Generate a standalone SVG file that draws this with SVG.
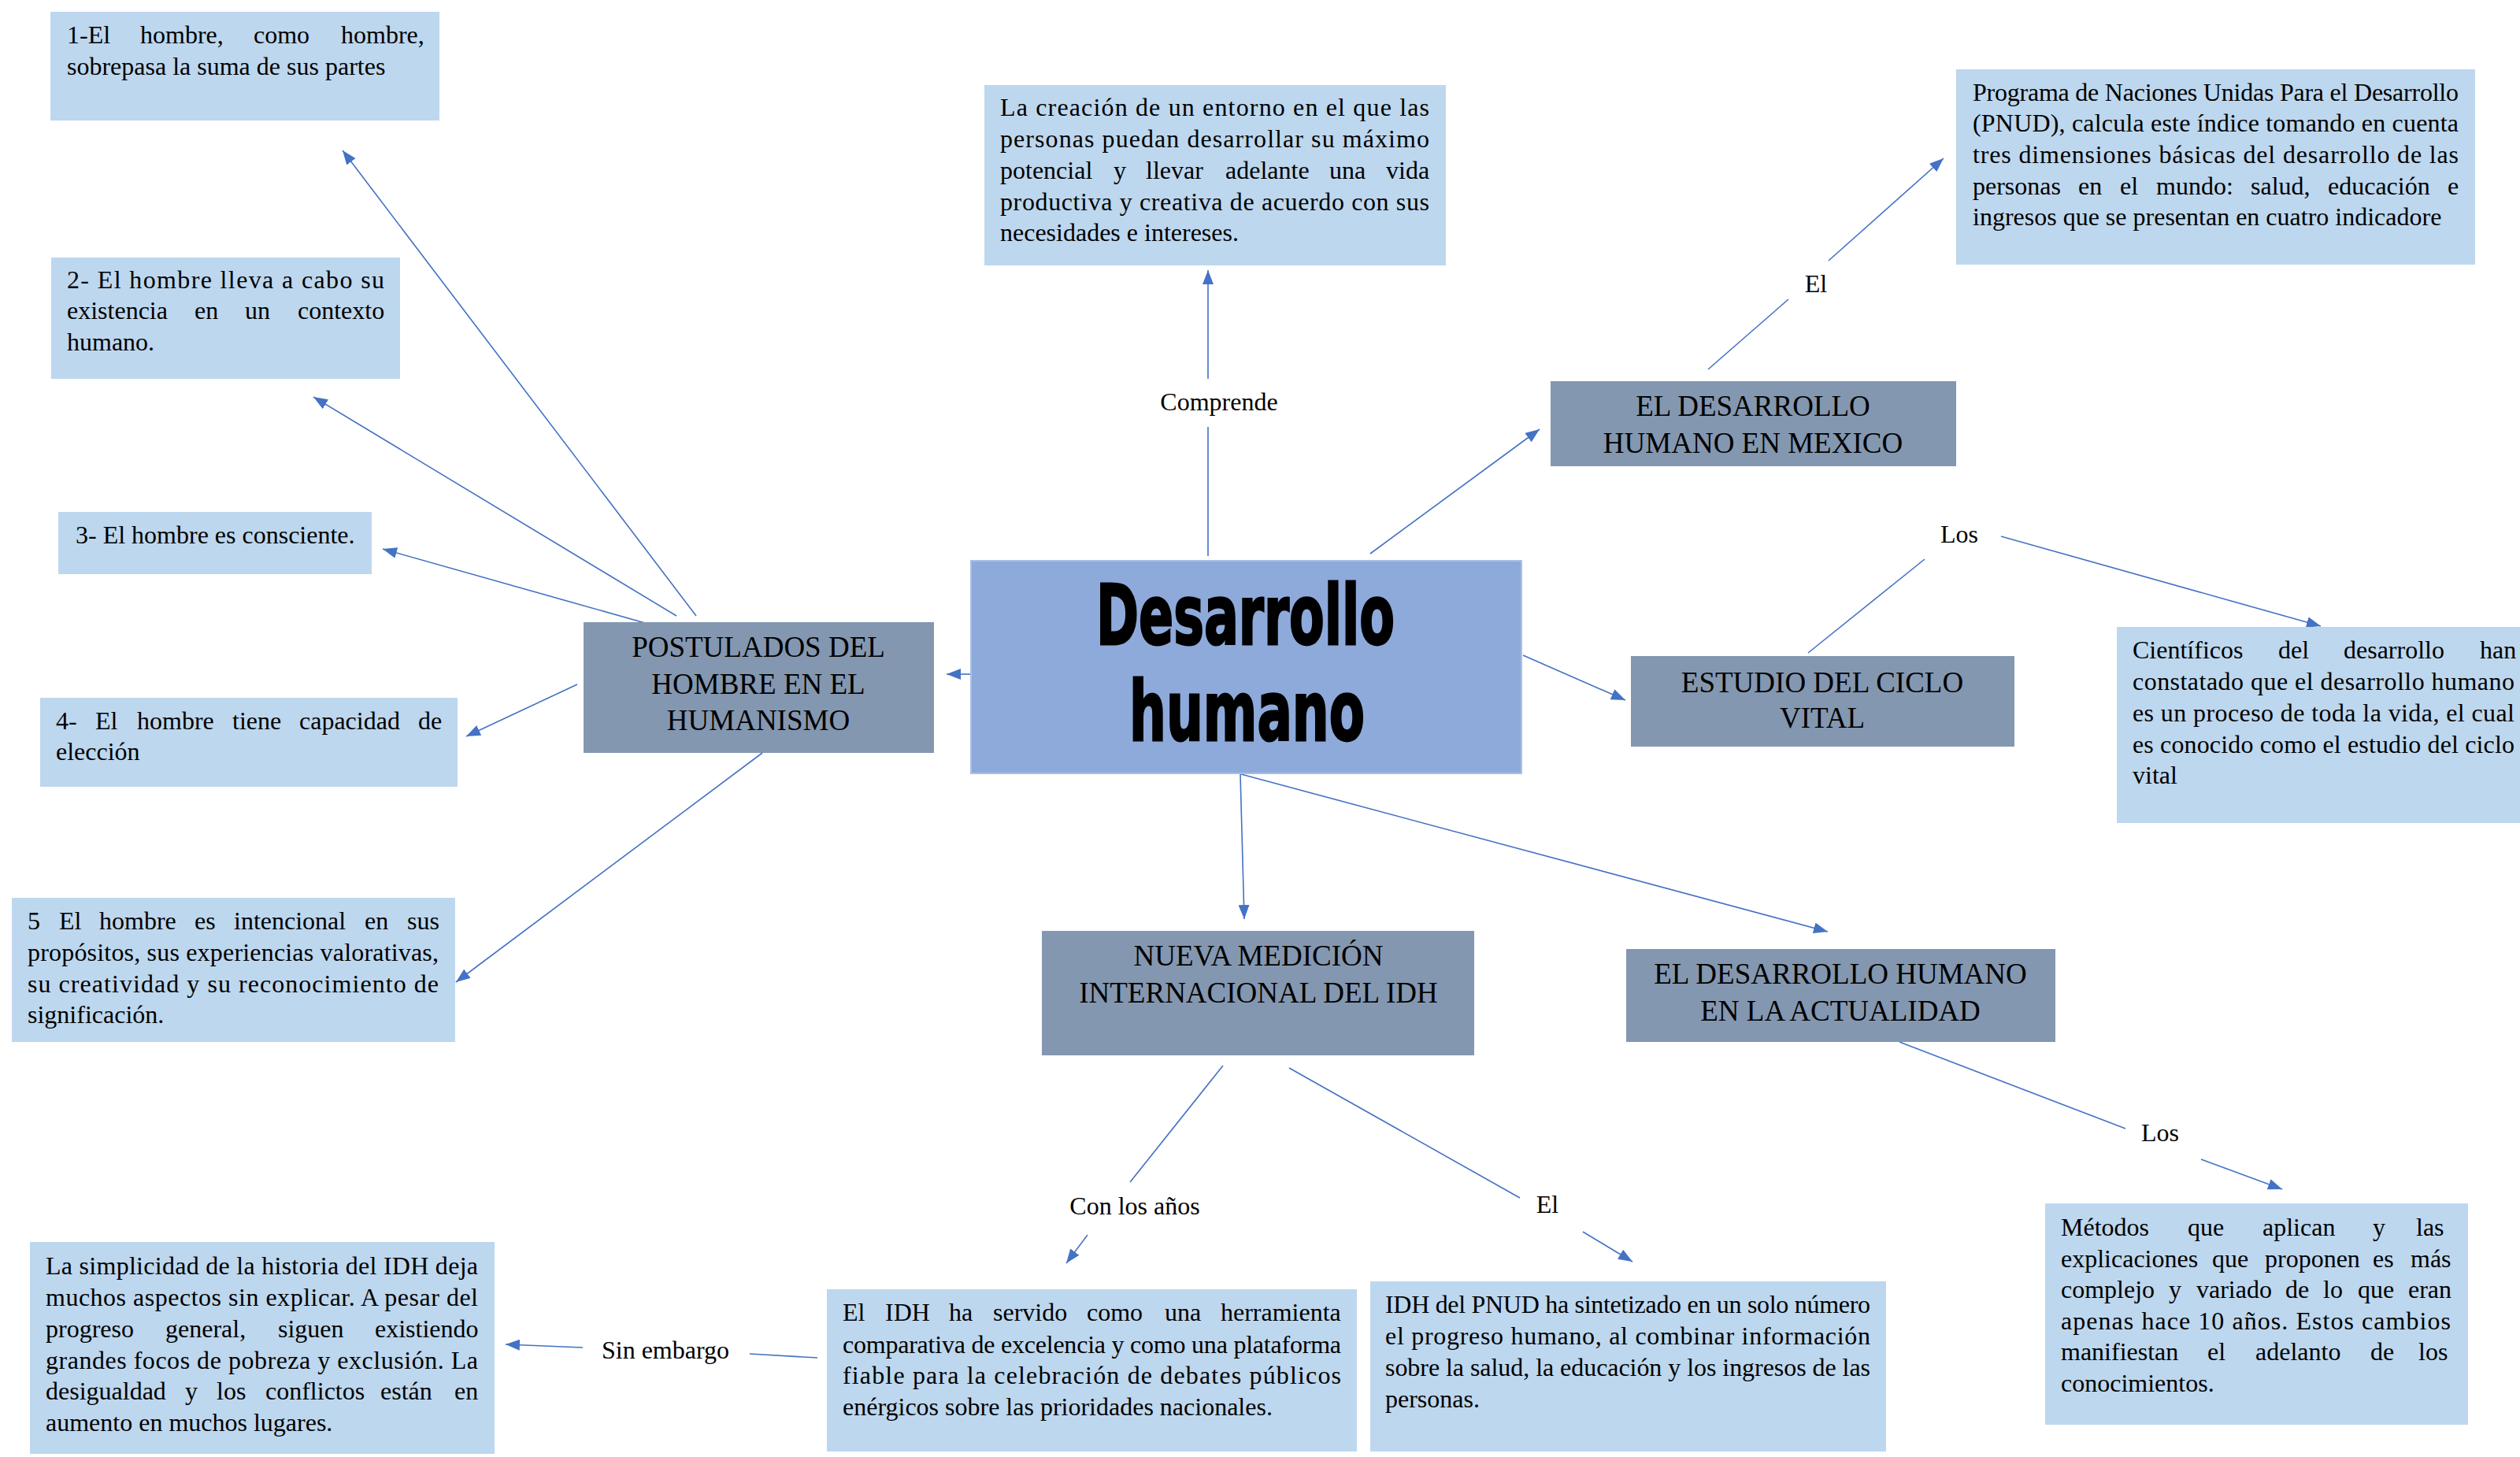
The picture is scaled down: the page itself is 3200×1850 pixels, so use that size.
<svg xmlns="http://www.w3.org/2000/svg" width="3200" height="1850" viewBox="0 0 3200 1850">
<defs>
<style>
.lb{fill:#BDD7EE}
.dk{fill:#8497B0}
.t{font-family:"Liberation Serif","Times New Roman",serif;font-size:32px;fill:#000}
.h{font-family:"Liberation Serif","Times New Roman",serif;font-size:37px;fill:#000;text-anchor:middle}
.c{stroke:#4472C4;stroke-width:1.6;fill:none}
.lbl{font-family:"Liberation Serif","Times New Roman",serif;font-size:32px;fill:#000;text-anchor:middle}
.big{font-family:"DejaVu Sans",sans-serif;font-weight:bold;font-size:106px;fill:#000;stroke:#000;stroke-width:3}
</style>
<marker id="ah" markerUnits="userSpaceOnUse" markerWidth="20" markerHeight="14" refX="18" refY="7" orient="auto">
<path d="M0,0 L18,7 L0,14 z" fill="#4472C4"/>
</marker>
</defs>
<rect width="3200" height="1850" fill="#fff"/>

<g id="connectors">
<line class="c" x1="884" y1="782" x2="435" y2="191" marker-end="url(#ah)"/>
<line class="c" x1="859" y1="782" x2="398" y2="504" marker-end="url(#ah)"/>
<line class="c" x1="826" y1="793" x2="486" y2="697" marker-end="url(#ah)"/>
<line class="c" x1="733" y1="869" x2="592" y2="935" marker-end="url(#ah)"/>
<line class="c" x1="968" y1="956" x2="579" y2="1247" marker-end="url(#ah)"/>
<line class="c" x1="1233" y1="856" x2="1202" y2="856" marker-end="url(#ah)"/>
<line class="c" x1="1534" y1="706" x2="1534" y2="542"/>
<line class="c" x1="1534" y1="481" x2="1534" y2="343" marker-end="url(#ah)"/>
<line class="c" x1="1740" y1="703" x2="1955" y2="545" marker-end="url(#ah)"/>
<line class="c" x1="2169" y1="469" x2="2271" y2="380"/>
<line class="c" x1="2322" y1="331" x2="2468" y2="201" marker-end="url(#ah)"/>
<line class="c" x1="1934" y1="832" x2="2064" y2="889" marker-end="url(#ah)"/>
<line class="c" x1="2296" y1="829" x2="2444" y2="710"/>
<line class="c" x1="2541" y1="681" x2="2947" y2="795" marker-end="url(#ah)"/>
<line class="c" x1="1575" y1="983" x2="1580" y2="1167" marker-end="url(#ah)"/>
<line class="c" x1="1576" y1="983" x2="2321" y2="1183" marker-end="url(#ah)"/>
<line class="c" x1="2412" y1="1323" x2="2699" y2="1433"/>
<line class="c" x1="2795" y1="1472" x2="2898" y2="1510" marker-end="url(#ah)"/>
<line class="c" x1="1553" y1="1353" x2="1435" y2="1501"/>
<line class="c" x1="1381" y1="1568" x2="1354" y2="1604" marker-end="url(#ah)"/>
<line class="c" x1="1637" y1="1356" x2="1930" y2="1521"/>
<line class="c" x1="2010" y1="1564" x2="2073" y2="1602" marker-end="url(#ah)"/>
<line class="c" x1="1038" y1="1724" x2="952" y2="1719"/>
<line class="c" x1="740" y1="1711" x2="642" y2="1707" marker-end="url(#ah)"/>
<text class="lbl" x="1548" y="521">Comprende</text>
<text class="lbl" x="2306" y="371">El</text>
<text class="lbl" x="2488" y="689">Los</text>
<text class="lbl" x="2743" y="1449">Los</text>
<text class="lbl" x="1441" y="1542">Con los años</text>
<text class="lbl" x="1965" y="1540">El</text>
<text class="lbl" x="845" y="1725">Sin embargo</text>
</g>

<g id="central">
<rect x="1233" y="712" width="699" height="270" fill="#8EAADB" stroke="#A9BFE6" stroke-width="2"/>
<text class="big" x="1392" y="818" textLength="379" lengthAdjust="spacingAndGlyphs">Desarrollo</text>
<text class="big" x="1434" y="940" textLength="299" lengthAdjust="spacingAndGlyphs">humano</text>
</g>

<g id="postulados">
<rect class="dk" x="741" y="790" width="445" height="166"/>
<text class="h" x="963" y="834">POSTULADOS DEL</text>
<text class="h" x="963" y="881">HOMBRE EN EL</text>
<text class="h" x="963" y="927">HUMANISMO</text>
</g>

<g id="p1">
<rect class="lb" x="64" y="15" width="494" height="138"/>
<text class="t" y="55"><tspan x="85">1-El</tspan><tspan x="178">hombre,</tspan><tspan x="322">como</tspan><tspan x="433">hombre,</tspan></text>
<text class="t" x="85" y="95">sobrepasa la suma de sus partes</text>
</g>

<g id="p2">
<rect class="lb" x="65" y="327" width="443" height="154"/>
<text class="t" x="85" y="366" textLength="403" lengthAdjust="spacing">2- El hombre lleva a cabo su</text>
<text class="t" y="405"><tspan x="85">existencia</tspan><tspan x="247">en</tspan><tspan x="311">un</tspan><tspan x="378">contexto</tspan></text>
<text class="t" x="85" y="445">humano.</text>
</g>

<g id="p3">
<rect class="lb" x="74" y="650" width="398" height="79"/>
<text class="t" x="96" y="690">3- El hombre es consciente.</text>
</g>

<g id="p4">
<rect class="lb" x="51" y="886" width="530" height="113"/>
<text class="t" y="926"><tspan x="71">4-</tspan><tspan x="121">El</tspan><tspan x="174">hombre</tspan><tspan x="295">tiene</tspan><tspan x="380">capacidad</tspan><tspan x="531">de</tspan></text>
<text class="t" x="71" y="965">elección</text>
</g>

<g id="p5">
<rect class="lb" x="15" y="1140" width="563" height="183"/>
<text class="t" y="1180"><tspan x="35">5</tspan><tspan x="75">El</tspan><tspan x="126">hombre</tspan><tspan x="247">es</tspan><tspan x="297">intencional</tspan><tspan x="463">en</tspan><tspan x="517">sus</tspan></text>
<text class="t" x="35" y="1220" textLength="522" lengthAdjust="spacing">propósitos, sus experiencias valorativas,</text>
<text class="t" x="35" y="1260" textLength="522" lengthAdjust="spacing">su creatividad y su reconocimiento de</text>
<text class="t" x="35" y="1299">significación.</text>
</g>

<g id="comprende">
<rect class="lb" x="1250" y="108" width="586" height="229"/>
<text class="t" x="1270" y="147" textLength="545" lengthAdjust="spacing">La creación de un entorno en el que las</text>
<text class="t" x="1270" y="187" textLength="545" lengthAdjust="spacing">personas puedan desarrollar su máximo</text>
<text class="t" y="227"><tspan x="1270">potencial</tspan><tspan x="1414">y</tspan><tspan x="1455">llevar</tspan><tspan x="1556">adelante</tspan><tspan x="1688">una</tspan><tspan x="1760">vida</tspan></text>
<text class="t" x="1270" y="267" textLength="545" lengthAdjust="spacing">productiva y creativa de acuerdo con sus</text>
<text class="t" x="1270" y="306">necesidades e intereses.</text>
</g>

<g id="mexico">
<rect class="dk" x="1969" y="484" width="515" height="108"/>
<text class="h" x="2226" y="528">EL DESARROLLO</text>
<text class="h" x="2226" y="575">HUMANO EN MEXICO</text>
</g>

<g id="pnud">
<rect class="lb" x="2484" y="88" width="659" height="248"/>
<text class="t" x="2505" y="128" textLength="617" lengthAdjust="spacing">Programa de Naciones Unidas Para el Desarrollo</text>
<text class="t" x="2505" y="167" textLength="617" lengthAdjust="spacing">(PNUD), calcula este índice tomando en cuenta</text>
<text class="t" x="2505" y="207" textLength="617" lengthAdjust="spacing">tres dimensiones básicas del desarrollo de las</text>
<text class="t" y="247"><tspan x="2505">personas</tspan><tspan x="2639">en</tspan><tspan x="2692">el</tspan><tspan x="2738">mundo:</tspan><tspan x="2858">salud,</tspan><tspan x="2956">educación</tspan><tspan x="3108">e</tspan></text>
<text class="t" x="2505" y="286">ingresos que se presentan en cuatro indicadore</text>
</g>

<g id="estudio">
<rect class="dk" x="2071" y="833" width="487" height="115"/>
<text class="h" x="2314" y="879">ESTUDIO DEL CICLO</text>
<text class="h" x="2314" y="924">VITAL</text>
</g>

<g id="cientificos">
<rect class="lb" x="2688" y="796" width="512" height="249"/>
<text class="t" y="836"><tspan x="2708">Científicos</tspan><tspan x="2893">del</tspan><tspan x="2976">desarrollo</tspan><tspan x="3149">han</tspan></text>
<text class="t" x="2708" y="876" textLength="485" lengthAdjust="spacing">constatado que el desarrollo humano</text>
<text class="t" x="2708" y="916" textLength="485" lengthAdjust="spacing">es un proceso de toda la vida, el cual</text>
<text class="t" x="2708" y="956" textLength="485" lengthAdjust="spacing">es conocido como el estudio del ciclo</text>
<text class="t" x="2708" y="995">vital</text>
</g>

<g id="nueva">
<rect class="dk" x="1323" y="1182" width="549" height="158"/>
<text class="h" x="1598" y="1226">NUEVA MEDICIÓN</text>
<text class="h" x="1598" y="1273">INTERNACIONAL DEL IDH</text>
</g>

<g id="actualidad">
<rect class="dk" x="2065" y="1205" width="545" height="118"/>
<text class="h" x="2337" y="1249">EL DESARROLLO HUMANO</text>
<text class="h" x="2337" y="1296">EN LA ACTUALIDAD</text>
</g>

<g id="metodos">
<rect class="lb" x="2597" y="1528" width="537" height="281"/>
<text class="t" y="1569"><tspan x="2617">Métodos</tspan><tspan x="2778">que</tspan><tspan x="2873">aplican</tspan><tspan x="3013">y</tspan><tspan x="3068">las</tspan></text>
<text class="t" y="1609"><tspan x="2617">explicaciones</tspan><tspan x="2809">que</tspan><tspan x="2876">proponen</tspan><tspan x="3013">es</tspan><tspan x="3061">más</tspan></text>
<text class="t" y="1648"><tspan x="2617">complejo</tspan><tspan x="2754">y</tspan><tspan x="2789">variado</tspan><tspan x="2902">de</tspan><tspan x="2950">lo</tspan><tspan x="2994">que</tspan><tspan x="3058">eran</tspan></text>
<text class="t" x="2617" y="1688" textLength="495" lengthAdjust="spacing">apenas hace 10 años. Estos cambios</text>
<text class="t" y="1727"><tspan x="2617">manifiestan</tspan><tspan x="2803">el</tspan><tspan x="2864">adelanto</tspan><tspan x="3010">de</tspan><tspan x="3071">los</tspan></text>
<text class="t" x="2617" y="1767">conocimientos.</text>
</g>

<g id="idh-servido">
<rect class="lb" x="1050" y="1637" width="673" height="206"/>
<text class="t" y="1677"><tspan x="1070">El</tspan><tspan x="1124">IDH</tspan><tspan x="1205">ha</tspan><tspan x="1261">servido</tspan><tspan x="1380">como</tspan><tspan x="1479">una</tspan><tspan x="1550">herramienta</tspan></text>
<text class="t" x="1070" y="1718" textLength="633" lengthAdjust="spacing">comparativa de excelencia y como una plataforma</text>
<text class="t" x="1070" y="1757" textLength="633" lengthAdjust="spacing">fiable para la celebración de debates públicos</text>
<text class="t" x="1070" y="1797">enérgicos sobre las prioridades nacionales.</text>
</g>

<g id="idh-pnud">
<rect class="lb" x="1740" y="1627" width="655" height="216"/>
<text class="t" x="1759" y="1667" textLength="616" lengthAdjust="spacing">IDH del PNUD ha sintetizado en un solo número</text>
<text class="t" x="1759" y="1707" textLength="616" lengthAdjust="spacing">el progreso humano, al combinar información</text>
<text class="t" x="1759" y="1747" textLength="616" lengthAdjust="spacing">sobre la salud, la educación y los ingresos de las</text>
<text class="t" x="1759" y="1787">personas.</text>
</g>

<g id="simplicidad">
<rect class="lb" x="38" y="1577" width="590" height="269"/>
<text class="t" x="58" y="1618" textLength="549" lengthAdjust="spacing">La simplicidad de la historia del IDH deja</text>
<text class="t" x="58" y="1658" textLength="549" lengthAdjust="spacing">muchos aspectos sin explicar. A pesar del</text>
<text class="t" y="1698"><tspan x="58">progreso</tspan><tspan x="210">general,</tspan><tspan x="353">siguen</tspan><tspan x="476">existiendo</tspan></text>
<text class="t" x="58" y="1738" textLength="549" lengthAdjust="spacing">grandes focos de pobreza y exclusión. La</text>
<text class="t" y="1777"><tspan x="58">desigualdad</tspan><tspan x="235">y</tspan><tspan x="275">los</tspan><tspan x="337">conflictos</tspan><tspan x="483">están</tspan><tspan x="577">en</tspan></text>
<text class="t" x="58" y="1817">aumento en muchos lugares.</text>
</g>
</svg>
